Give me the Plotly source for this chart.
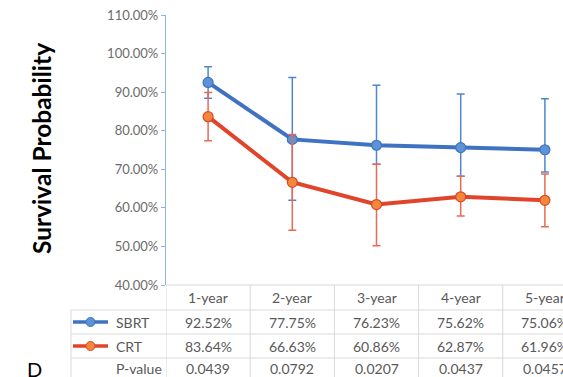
import plotly.graph_objects as go

# ---- data ----
periods = ["1-year", "2-year", "3-year", "4-year", "5-year"]
sbrt = [92.52, 77.75, 76.23, 75.62, 75.06]
crt = [83.64, 66.63, 60.86, 62.87, 61.96]
p_values = ["0.0439", "0.0792", "0.0207", "0.0437", "0.0457"]
# confidence-interval bounds (percent)
sbrt_upper = [96.6, 93.8, 91.8, 89.5, 88.3]
sbrt_lower = [88.4, 62.0, 71.3, 68.2, 69.3]
crt_upper = [89.9, 79.0, 71.3, 68.2, 68.8]
crt_lower = [77.4, 54.2, 50.2, 57.9, 55.1]

W, H = 563, 377
L, T, B = 166, 15, 92          # plot area margins (px)
COL_W = 84.2                   # width of one category column (px)
plot_w = W - L
plot_h = H - T - B

BLUE_LINE, BLUE_MK, BLUE_ERR = "#3f73c2", "#5b93d6", "#4f86cf"
RED_LINE, RED_MK, RED_ERR = "#e0442a", "#f08a3a", "#e86a55"
GRID = "#d9d9d9"
TXT = "#595959"
FONT = "Lato"

x_idx = list(range(len(periods)))


def frac(v):
    return [a / 100 for a in v]


# "paper" coordinates are relative to the plot area, so convert from page pixels
def py(ypx):
    return (H - B - ypx) / plot_h


def px(xpx):
    return (xpx - L) / plot_w


fig = go.Figure()

for name, vals, up, lo, lc, mc, ec in [
    ("SBRT", sbrt, sbrt_upper, sbrt_lower, BLUE_LINE, BLUE_MK, BLUE_ERR),
    ("CRT", crt, crt_upper, crt_lower, RED_LINE, RED_MK, RED_ERR),
]:
    fig.add_trace(go.Scatter(
        x=x_idx, y=frac(vals), name=name, mode="lines+markers",
        line=dict(color=lc, width=4),
        marker=dict(size=10, color=mc, line=dict(color=lc, width=1.2)),
        error_y=dict(type="data", symmetric=False,
                     array=[(u - v) / 100 for u, v in zip(up, vals)],
                     arrayminus=[(v - l) / 100 for v, l in zip(vals, lo)],
                     color=ec, thickness=1.5, width=4),
        showlegend=False,
    ))

# ---- data table under the plot ----
rows_y = [285, 310, 334, 358, 382]   # row boundaries (px)
shapes = []
# horizontal rules
shapes.append(dict(type="line", xref="x", yref="paper", x0=-0.5, x1=len(periods) - 0.5,
                   y0=py(rows_y[0]), y1=py(rows_y[0]), line=dict(color=GRID, width=1)))
for yy in rows_y[1:4]:
    shapes.append(dict(type="line", xref="paper", yref="paper", x0=px(71), x1=px(W + 30),
                       y0=py(yy), y1=py(yy), line=dict(color=GRID, width=1)))
# vertical rules
for k in range(len(periods) + 1):
    shapes.append(dict(type="line", xref="x", yref="paper", x0=k - 0.5, x1=k - 0.5,
                       y0=py(rows_y[0]), y1=py(H + 5), line=dict(color=GRID, width=1)))
shapes.append(dict(type="line", xref="paper", yref="paper", x0=px(71), x1=px(71),
                   y0=py(rows_y[1]), y1=py(H + 5), line=dict(color=GRID, width=1)))

row_centers = [(rows_y[i] + rows_y[i + 1]) / 2 for i in range(4)]

# legend keys inside the table
for yc, lc, mc in [(row_centers[1], BLUE_LINE, BLUE_MK), (row_centers[2], RED_LINE, RED_MK)]:
    shapes.append(dict(type="line", xref="paper", yref="paper", x0=px(73), x1=px(108),
                       y0=py(yc), y1=py(yc), line=dict(color=lc, width=3.5)))
    shapes.append(dict(type="circle", xref="paper", yref="paper",
                       x0=px(86), x1=px(95), y0=py(yc - 4.5), y1=py(yc + 4.5),
                       fillcolor=mc, line=dict(color=lc, width=1)))

annotations = []
tf = dict(family=FONT, size=14, color=TXT)


def cell(x, y, text, xref="x", xanchor="center"):
    return dict(x=x, y=y, xref=xref, yref="paper", text=text, showarrow=False,
                font=tf, xanchor=xanchor, yanchor="middle")


for i, lab in enumerate(periods):
    annotations.append(cell(i, py(row_centers[0]), lab))
    annotations.append(cell(i, py(row_centers[1]), f"{sbrt[i]:.2f}%"))
    annotations.append(cell(i, py(row_centers[2]), f"{crt[i]:.2f}%"))
    annotations.append(cell(i, py(row_centers[3] - 2), p_values[i]))
for j, lab in enumerate(["SBRT", "CRT", "P-value"]):
    yc = row_centers[j + 1] - (2 if j == 2 else 0)
    annotations.append(cell(px(114), py(yc), lab, xref="paper", xanchor="left"))

# axis title and panel letter
annotations.append(dict(x=px(41), y=py(149), xref="paper", yref="paper",
                        xanchor="center", yanchor="middle",
                        text="<b>Survival Probability</b>", textangle=-90, showarrow=False,
                        font=dict(family=FONT, size=24.5, color="#000000")))
annotations.append(dict(x=px(34), y=py(369), xref="paper", yref="paper", text="D",
                        xanchor="center", yanchor="middle",
                        showarrow=False, font=dict(family=FONT, size=20, color="#000000")))

fig.update_layout(
    width=W, height=H,
    margin=dict(l=L, r=0, t=T, b=B, pad=0),
    paper_bgcolor="white", plot_bgcolor="white",
    xaxis=dict(range=[-0.5, -0.5 + plot_w / COL_W], showticklabels=False, showgrid=False,
               zeroline=False, showline=False, ticks=""),
    yaxis=dict(range=[0.40, 1.10], dtick=0.10, tick0=0.40, tickformat=".2%",
               showgrid=False, zeroline=False, showline=True, linecolor="#8fb4e0",
               linewidth=1.2, ticks="outside", ticklen=4, tickcolor="#8fb4e0",
               tickfont=dict(family=FONT, size=13, color="#6b6b6b")),
    shapes=shapes, annotations=annotations,
)

fig.write_html("out.html")
